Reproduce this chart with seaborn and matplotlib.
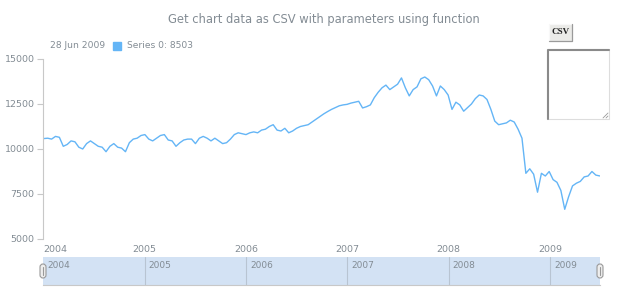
import pandas as pd
import seaborn as sns
import matplotlib.pyplot as plt
from matplotlib.patches import Rectangle, FancyBboxPatch

title = 'Get chart data as CSV with parameters using function'
series_name = 'Series 0'
year_labels = ['2004', '2005', '2006', '2007', '2008', '2009']
y_ticks = [5000, 7500, 10000, 12500, 15000]

# one value every two weeks, 4 Jan 2004 .. 28 Jun 2009
dates = pd.date_range('2004-01-04', '2009-06-28', freq='2W')
values = [
    10580, 10600, 10550, 10700, 10650, 10150, 10250, 10450, 10400, 10100,
    10000, 10300, 10450, 10300, 10150, 10100, 9850, 10150, 10300, 10100,
    10050, 9850, 10350, 10550, 10600, 10750, 10800, 10550, 10450, 10600,
    10750, 10800, 10500, 10450, 10150, 10350, 10500, 10550, 10550, 10300,
    10600, 10700, 10600, 10450, 10600, 10450, 10300, 10350, 10550, 10800,
    10900, 10850, 10800, 10900, 10950, 10900, 11050, 11100, 11250, 11350,
    11050, 11000, 11150, 10900, 11000, 11150, 11250, 11300, 11350, 11500,
    11650, 11800, 11950, 12080, 12200, 12300, 12400, 12450, 12480, 12550,
    12600, 12650, 12280, 12350, 12450, 12850, 13150, 13400, 13550, 13300,
    13450, 13600, 13950, 13400, 12950, 13300, 13450, 13900, 14000, 13850,
    13500, 12950, 13500, 13300, 13000, 12200, 12600, 12450, 12100, 12300,
    12500, 12800, 13000, 12950, 12750, 12200, 11550, 11350, 11400, 11450,
    11600, 11500, 11100, 10600, 8650, 8900, 8600, 7600, 8650, 8500,
    8750, 8300, 8150, 7700, 6650, 7350, 7950, 8100, 8200, 8450,
    8500, 8750, 8550, 8503,
]

df = pd.DataFrame({'date': dates, 'value': values})

sns.set_theme(style='white')
plt.rcParams['font.family'] = ['DejaVu Sans']

grey = '#838c94'
blue = '#64b5f6'
W, H = 620, 300

fig = plt.figure(figsize=(6.2, 3.0), dpi=100)

x0 = pd.Timestamp('2004-01-01')
x1 = pd.Timestamp('2009-06-29')
year_dates = [pd.Timestamp(y + '-01-01') for y in year_labels]

# main plot
ax = fig.add_axes([43 / W, 61 / H, 557 / W, 180 / H])
sns.lineplot(data=df, x='date', y='value', ax=ax, color=blue, linewidth=1.0)
ax.set_xlim(x0, x1)
ax.set_ylim(5000, 15000)
ax.set_yticks(y_ticks)
ax.set_yticklabels([str(v) for v in y_ticks])
ax.set_xticks(year_dates)
ax.set_xticklabels(year_labels)
ax.get_xticklabels()[0].set_horizontalalignment('left')
ax.set_xlabel('')
ax.set_ylabel('')
ax.tick_params(axis='y', direction='out', length=4, width=0.8, color='#c8c8c8',
               labelsize=6.8, labelcolor=grey, pad=2, left=True)
ax.tick_params(axis='x', length=0, labelsize=6.8, labelcolor=grey, pad=4)
for s in ['top', 'right', 'bottom']:
    ax.spines[s].set_visible(False)
ax.spines['left'].set_color('#c8c8c8')
ax.spines['left'].set_linewidth(0.8)

# scroller
sc = fig.add_axes([43 / W, 15 / H, 557 / W, 28 / H])
sc.set_facecolor('#d3e2f4')
sc.set_xlim(x0, x1)
sc.set_ylim(0, 1)
sc.set_xticks([])
sc.set_yticks([])
for s in ['top', 'left', 'right']:
    sc.spines[s].set_visible(False)
sc.spines['bottom'].set_color('#c8c8c8')
sc.spines['bottom'].set_linewidth(0.8)
for d, lab in zip(year_dates, year_labels):
    if d > x0:
        sc.axvline(d, color='#b8c4d2', linewidth=0.8)
    sc.annotate(lab, (d, 1), xytext=(3, -3), textcoords='offset points',
                fontsize=6.5, color=grey, va='top', ha='left')

# overlay in pixel coordinates for title, legend and widgets
ov = fig.add_axes([0, 0, 1, 1], facecolor='none')
ov.set_xlim(0, W)
ov.set_ylim(H, 0)
ov.axis('off')

ov.text(324, 20, title, ha='center', va='center', fontsize=8.3, color=grey)
ov.text(50, 46, dates[-1].strftime('%d %b %Y'), ha='left', va='center',
        fontsize=6.6, color=grey)
ov.add_patch(Rectangle((113, 42), 8, 8, color=blue))
ov.text(127, 46, f'{series_name}: {values[-1]}', ha='left', va='center',
        fontsize=6.6, color=grey)

# scroller handles
for hx in [43, 600]:
    ov.add_patch(FancyBboxPatch((hx - 3, 264), 6, 14,
                                boxstyle='round,pad=0,rounding_size=3',
                                facecolor='#eeeeee', edgecolor='#999999',
                                linewidth=0.8))
    ov.plot([hx, hx], [267, 275], color='#999999', linewidth=0.8)

# CSV button
ov.add_patch(Rectangle((549, 24), 23, 17, facecolor='#ebebe8',
                       edgecolor='none'))
ov.plot([549, 549, 572], [41, 24, 24], color='#f8f8f8', linewidth=0.9)
ov.plot([549, 572, 572], [41, 41, 24], color='#9a9a9a', linewidth=0.9)
ov.text(560.5, 32.5, 'CSV', ha='center', va='center', fontsize=6.5,
        fontweight='bold', color='#222222', family='Liberation Serif')

# text area
ov.add_patch(Rectangle((547, 49), 62, 70, facecolor='white',
                       edgecolor='#dddddd', linewidth=0.8))
ov.plot([548, 548, 609], [119, 50, 50], color='#8a8a8a', linewidth=1.5)
ov.plot([603, 608], [118, 113], color='#999999', linewidth=0.6)
ov.plot([606, 608], [118, 116], color='#999999', linewidth=0.6)

fig.savefig('out.png', dpi=100)
